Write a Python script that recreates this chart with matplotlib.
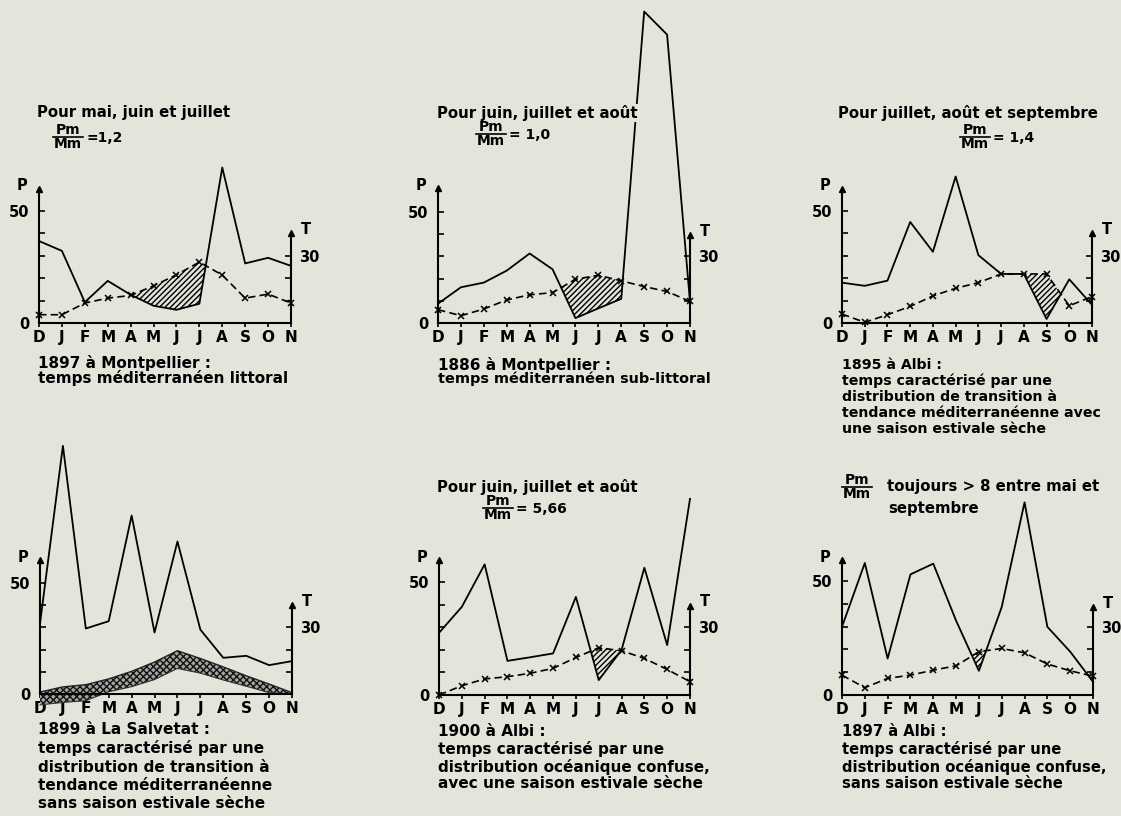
import numpy as np
import matplotlib.pyplot as plt

W, H = 1121, 816
BG = '#e3e4da'

months = ['D', 'J', 'F', 'M', 'A', 'M', 'J', 'J', 'A', 'S', 'O', 'N']

# P et T (T dans la meme echelle que P)
p_1897_montpellier = [36.6, 32.2, 9.3, 18.8, 12.6, 7.7, 5.9, 8.6, 69.4, 26.6, 29.1, 25.5]
t_1897_montpellier = [3.7, 3.7, 8.9, 11.1, 12.3, 16.6, 21.5, 27.2, 21.4, 11.1, 12.9, 8.9]

p_1886_montpellier = [8.7, 16.1, 18.2, 23.6, 31.3, 24.2, 2.2, 6.6, 10.9, 140.3, 129.9, 9.5]
t_1886_montpellier = [6.0, 3.3, 6.3, 10.4, 12.7, 13.7, 19.7, 21.5, 19.0, 16.4, 14.2, 9.7]

p_1895_albi = [18.0, 16.6, 18.9, 45.1, 31.8, 65.4, 30.3, 21.9, 21.9, 1.8, 19.5, 8.1]
t_1895_albi = [4.0, 0.3, 3.7, 7.4, 12.1, 15.5, 18.0, 21.9, 21.9, 21.9, 7.7, 11.8]

p_1899_salvetat = [31.7, 111.8, 29.5, 32.8, 80.4, 27.7, 68.7, 29.0, 16.3, 17.2, 13.0, 14.8]
t_1899_salvetat = [0.9, 3.2, 4.2, 6.8, 10.2, 14.4, 19.5, 16.0, 12.2, 8.2, 4.5, 0.6]
t_1899_salvetat_bas = [-4.9, -3.8, -3.0, 1.0, 3.3, 6.5, 11.5, 9.4, 6.3, 3.5, 0.6, 0.0]

p_1900_albi = [27.5, 39.0, 57.8, 15.1, 16.7, 18.4, 43.4, 6.6, 19.9, 56.3, 22.1, 86.8]
t_1900_albi = [0.0, 4.1, 7.1, 8.1, 9.6, 11.8, 16.6, 20.9, 19.6, 16.2, 11.3, 5.9]

p_1897_albi = [29.9, 57.9, 16.0, 52.9, 57.6, 32.6, 10.6, 38.6, 84.5, 29.9, 19.0, 5.8]
t_1897_albi = [8.7, 3.2, 7.3, 8.7, 10.9, 12.8, 19.0, 20.4, 18.5, 13.6, 10.6, 8.3]

plt.rcParams['font.family'] = 'DejaVu Sans'
plt.rcParams['font.weight'] = 'bold'
plt.rcParams['hatch.linewidth'] = 1.0

fig = plt.figure(figsize=(W / 100, H / 100), dpi=100, facecolor=BG)

TITRE = 10.7
LEGENDE = 11


def txt(x, y, s, size=LEGENDE, ha='left', box=False):
    kw = {}
    if box:
        kw['bbox'] = dict(facecolor=BG, edgecolor='none', pad=1)
    fig.text(x / W, 1 - y / H, s, ha=ha, va='center', fontsize=size,
             fontweight='bold', **kw)


def frac(x, y, rest):
    # Pm / Mm avec le trait au milieu
    txt(x, y - 7, 'Pm', size=10, ha='center')
    txt(x, y + 7, 'Mm', size=10, ha='center')
    fig.add_artist(plt.Line2D([(x - 15) / W, (x + 15) / W], [1 - y / H, 1 - y / H],
                              color='k', lw=1.2))
    if rest:
        txt(x + 18, y + 1, rest, size=10)


def panel(box, P, T, span, T_bas=None):
    left, right, zero, y50, ptop, ttop = box
    k = 50 / (zero - y50)
    ymax = (zero - ptop) * k
    tmax = (zero - ttop) * k
    ax = fig.add_axes([left / W, 1 - zero / H, (right - left) / W, (zero - ptop) / H])
    ax.patch.set_alpha(0)
    ax.set_xlim(0, 11)
    ax.set_ylim(0, ymax)
    x = np.arange(12)
    P = np.array(P)
    T = np.array(T)

    ax.plot(x, P, color='k', lw=1.3, clip_on=False, zorder=3)
    if T_bas is None:
        ax.plot(x, T, color='k', lw=1.2, ls=(0, (4.5, 2.5)), marker='x', ms=4,
                mew=1.1, clip_on=False, zorder=3)
        m = (T > P) & (x >= span[0]) & (x <= span[1])
        ax.fill_between(x, T, P, where=m, interpolate=True, facecolor='none',
                        edgecolor='k', hatch='//////', lw=0, zorder=2)
    else:
        ax.fill_between(x, T_bas, T, facecolor='#a4a49c', edgecolor='#111111',
                        hatch='xxxxx', lw=0, clip_on=False, zorder=2)
        ax.plot(x, T, color='#222222', lw=1.0, clip_on=False, zorder=2)
        ax.plot(x, T_bas, color='#333333', lw=0.8, clip_on=False, zorder=2)

    for s in ['top', 'right']:
        ax.spines[s].set_visible(False)
    for s in ['left', 'bottom']:
        ax.spines[s].set_linewidth(1.5)
    ax.set_xticks(x)
    ax.set_xticklabels(months, fontsize=11, fontweight='bold')
    ax.tick_params(axis='x', direction='out', length=3, width=1.2, pad=2)
    ax.set_yticks([0, 10, 20, 30, 40, 50])
    ax.set_yticklabels(['0', '', '', '', '', '50'], fontsize=10.5, fontweight='bold')
    ax.tick_params(axis='y', direction='in', length=4, width=1.2, pad=7)
    ax.plot([0], [ymax], marker='^', ms=5, color='k', clip_on=False)

    ax2 = ax.twinx()
    ax2.set_ylim(0, ymax)
    for s in ['top', 'left', 'bottom']:
        ax2.spines[s].set_visible(False)
    ax2.spines['right'].set_bounds(0, tmax)
    ax2.spines['right'].set_linewidth(1.5)
    ax2.set_yticks([10, 20, 30])
    ax2.set_yticklabels(['', '', '30'], fontsize=10.5, fontweight='bold')
    ax2.tick_params(axis='y', direction='in', length=4, width=1.2, pad=6)
    ax2.plot([11], [tmax], marker='^', ms=5, color='k', clip_on=False)

    txt(left - 17, ptop - 3, 'P', size=10.5, ha='center')
    txt(right + 15, ttop - 4, 'T', size=10.5, ha='center')


# 1897 a Montpellier
panel((39, 291, 323, 211, 189, 233), p_1897_montpellier, t_1897_montpellier, (3, 8))
txt(37, 113, 'Pour mai, juin et juillet', size=TITRE)
frac(68, 137, '=1,2')
txt(38, 363, '1897 à Montpellier :')
txt(38, 378, 'temps méditerranéen littoral')

# 1886 a Montpellier
panel((438, 690, 323, 212, 188, 235), p_1886_montpellier, t_1886_montpellier, (5, 9))
txt(437, 113, 'Pour juin, juillet et août', size=TITRE, box=True)
frac(491, 134, '= 1,0')
txt(438, 365, '1886 à Montpellier :')
txt(438, 379, 'temps méditerranéen sub-littoral', size=10.4)

# 1895 a Albi
panel((842, 1092, 323, 211, 189, 233), p_1895_albi, t_1895_albi, (7, 10))
txt(838, 113, 'Pour juillet, août et septembre', size=TITRE)
frac(975, 137, '= 1,4')
txt(842, 365, '1895 à Albi :', size=10.2)
txt(842, 381, 'temps caractérisé par une', size=10.2)
txt(842, 397, 'distribution de transition à', size=10.2)
txt(842, 413, 'tendance méditerranéenne avec', size=10.2)
txt(842, 429, 'une saison estivale sèche', size=10.2)

# 1899 a La Salvetat
panel((40, 292, 694, 583, 560, 605), p_1899_salvetat, t_1899_salvetat, (0, 11),
      T_bas=t_1899_salvetat_bas)
txt(38, 730, '1899 à La Salvetat :')
txt(38, 748, 'temps caractérisé par une')
txt(38, 767, 'distribution de transition à')
txt(38, 785, 'tendance méditerranéenne')
txt(38, 803, 'sans saison estivale sèche')

# 1900 a Albi
panel((439, 690, 695, 582, 560, 606), p_1900_albi, t_1900_albi, (6, 8))
txt(437, 487, 'Pour juin, juillet et août', size=TITRE)
frac(498, 508, '= 5,66')
txt(438, 732, '1900 à Albi :')
txt(438, 749, 'temps caractérisé par une')
txt(438, 767, 'distribution océanique confuse,')
txt(438, 784, 'avec une saison estivale sèche')

# 1897 a Albi
panel((842, 1093, 695, 581, 560, 607), p_1897_albi, t_1897_albi, (5, 7))
frac(857, 487, '')
txt(887, 487, 'toujours > 8 entre mai et', size=TITRE)
txt(888, 508, 'septembre', size=TITRE)
txt(842, 732, '1897 à Albi :', size=10.6)
txt(842, 749, 'temps caractérisé par une', size=10.6)
txt(842, 767, 'distribution océanique confuse,', size=10.6)
txt(842, 784, 'sans saison estivale sèche', size=10.6)

fig.savefig('out.png', dpi=100, facecolor=BG)
